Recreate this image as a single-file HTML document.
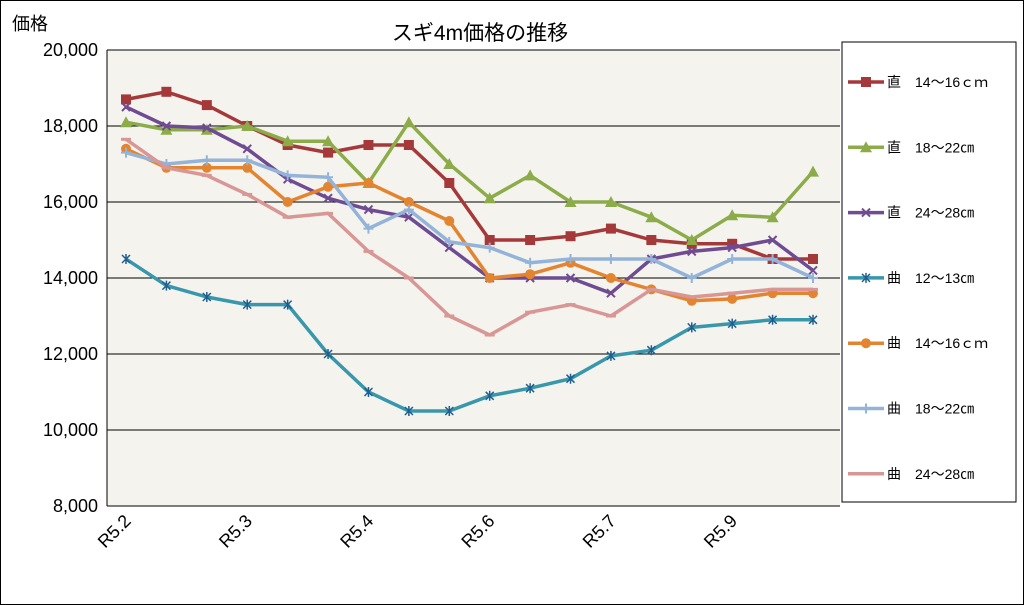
<!DOCTYPE html>
<html><head><meta charset="utf-8"><style>
body{margin:0;background:#fff;}
svg{display:block;font-family:"Liberation Sans","Noto Sans CJK JP",sans-serif;}
</style></head><body>
<svg id="c" width="1024" height="605" viewBox="0 0 1024 605">
<rect x="0.5" y="0.5" width="1023" height="604" fill="#fff" stroke="#000"/>
<text x="480" y="40" font-size="21" text-anchor="middle">スギ4m価格の推移</text>
<text x="12" y="30" font-size="18">価格</text>
<rect x="107" y="50" width="733" height="456" fill="#f4f3ee"/>
<g id="grid"></g><g id="series"></g>
<rect x="842" y="42" width="174" height="460" fill="#fff" stroke="#000"/>
<g id="legend"></g>
</svg>
<script>
const categories=["R5.2","","","R5.3","","","R5.4","","","R5.6","","","R5.7","","","R5.9","",""];
const yTicks=[8000,10000,12000,14000,16000,18000,20000];
const s1=[18700,18900,18550,18000,17500,17300,17500,17500,16500,15000,15000,15100,15300,15000,14900,14900,14500,14500];
const s2=[18100,17900,17900,18000,17600,17600,16500,18100,17000,16100,16700,16000,16000,15600,15000,15650,15600,16800];
const s3=[18500,18000,17950,17400,16600,16100,15800,15600,14800,14000,14000,14000,13600,14500,14700,14800,15000,14200];
const s4=[14500,13800,13500,13300,13300,12000,11000,10500,10500,10900,11100,11350,11950,12100,12700,12800,12900,12900];
const s5=[17400,16900,16900,16900,16000,16400,16500,16000,15500,14000,14100,14400,14000,13700,13400,13450,13600,13600];
const s6=[17300,17000,17100,17100,16700,16650,15300,15800,14950,14800,14400,14500,14500,14500,14000,14500,14500,14000];
const s7=[17650,16900,16700,16200,15600,15700,14700,14000,13000,12500,13100,13300,13000,13700,13500,13600,13700,13700];
const names=["直　14～16ｃｍ","直　18～22㎝","直　24～28㎝","曲　12～13㎝","曲　14～16ｃｍ","曲　18～22㎝","曲　24～28㎝"];
const colors=["#a5393a","#8cac4a","#6f4b92","#3997ab","#e38431","#94b3d9","#d89695"];
const markers=["square","tri","x","star","circle","plus","dash"];
const all=[s1,s2,s3,s4,s5,s6,s7];
const NS="http://www.w3.org/2000/svg";
const X0=126,X1=813,Y0=506,Y1=50,ymin=8000,ymax=20000;
const xs=i=>X0+(X1-X0)*i/(categories.length-1);
const ys=v=>Y0-(v-ymin)/(ymax-ymin)*(Y0-Y1);
function mk(t,a,p){const e=document.createElementNS(NS,t);for(const k in a)e.setAttribute(k,a[k]);p.appendChild(e);return e;}
const grid=document.getElementById('grid');
yTicks.forEach(v=>{
  const l=mk('line',{x1:107,x2:840,y1:ys(v),y2:ys(v),stroke:'#000','stroke-width':1},grid);
  
  
  const t=mk('text',{x:98,y:ys(v)+6,'font-size':18,'text-anchor':'end'},grid);
  t.textContent=v.toLocaleString('en-US');
  
  
});
mk('line',{x1:107,x2:107,y1:50,y2:506,stroke:'#000'},grid);
categories.forEach((c,i)=>{
  if(!c)return;
  const t=mk('text',{x:xs(i)+6,y:522,'font-size':18,'text-anchor':'end',transform:`rotate(-45 ${xs(i)+6} 522)`},grid);
  t.textContent=c;
  
  
});
function marker(g,type,x,y,col){
  let e;
  if(type==='square')e=mk('rect',{x:x-5,y:y-5,width:10,height:10,fill:col},g);
  else if(type==='tri')e=mk('polygon',{points:`${x},${y-6} ${x+6},${y+5} ${x-6},${y+5}`,fill:col},g);
  else if(type==='circle')e=mk('circle',{cx:x,cy:y,r:5,fill:col},g);
  else if(type==='x')e=mk('path',{d:`M${x-4} ${y-4}L${x+4} ${y+4}M${x-4} ${y+4}L${x+4} ${y-4}`,stroke:col,'stroke-width':2},g);
  else if(type==='star')e=mk('path',{d:`M${x-4} ${y-4}L${x+4} ${y+4}M${x-4} ${y+4}L${x+4} ${y-4}M${x} ${y-5}L${x} ${y+5}`,stroke:'#1f5f8f','stroke-width':1.5},g);
  else if(type==='plus')e=mk('path',{d:`M${x-5} ${y}L${x+5} ${y}M${x} ${y-5}L${x} ${y+5}`,stroke:col,'stroke-width':2},g);
  else e=mk('path',{d:`M${x-5} ${y}L${x+5} ${y}`,stroke:col,'stroke-width':3},g);
  
  
}
const sg=document.getElementById('series');
all.forEach((d,si)=>{
  const g=mk('g',{},sg);
  
  
  const p=mk('polyline',{points:d.map((v,i)=>xs(i)+','+ys(v)).join(' '),fill:'none',stroke:colors[si],'stroke-width':3.5,'stroke-linejoin':'round'},g);
  
  
  d.forEach((v,i)=>marker(g,markers[si],xs(i),ys(v),colors[si]));
});
const lg=document.getElementById('legend');
names.forEach((n,i)=>{
  const y=82+i*65.3;
  const g=mk('g',{},lg);
  
  
  mk('line',{x1:848,x2:884,y1:y,y2:y,stroke:colors[i],'stroke-width':3.5},g);
  marker(g,markers[i],866,y,colors[i]);
  const t=mk('text',{x:887,y:y+5,'font-size':14},g);
  t.textContent=n;
});
</script>
</body></html>
